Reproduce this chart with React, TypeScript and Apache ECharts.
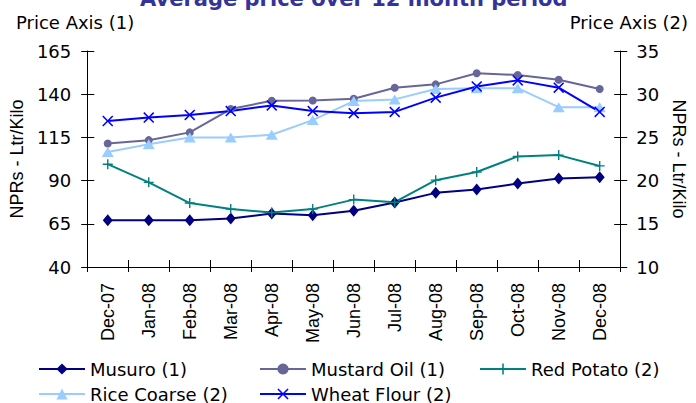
import React, { useEffect, useRef } from 'react';
import * as echarts from 'echarts';

const categories = ['Dec-07', 'Jan-08', 'Feb-08', 'Mar-08', 'Apr-08', 'May-08', 'Jun-08', 'Jul-08', 'Aug-08', 'Sep-08', 'Oct-08', 'Nov-08', 'Dec-08'];
const leftTicks = { min: 40, max: 165, interval: 25 };
const rightTicks = { min: 10, max: 35, interval: 5 };

const musuro = [67, 67, 67, 68, 70.9, 70, 72.5, 77.3, 82.9, 84.8, 88.3, 91.2, 92];
const mustardOil = [111.5, 113.4, 117.9, 131.4, 136.2, 136.4, 137.4, 143.7, 145.7, 152.1, 151.1, 148.4, 143];
const redPotato = [21.9, 19.8, 17.4, 16.7, 16.3, 16.7, 17.8, 17.5, 20.05, 21.0, 22.8, 22.95, 21.7];
const riceCoarse = [23.3, 24.2, 25.0, 25.0, 25.3, 27.0, 29.2, 29.4, 30.6, 30.7, 30.7, 28.5, 28.5];
const wheatFlour = [26.9, 27.3, 27.6, 28.05, 28.7, 28.05, 27.8, 27.95, 29.6, 30.9, 31.6, 30.75, 27.95];

const PLUS = 'path://M43,0H57V43H100V57H57V100H43V57H0V43H43Z';
const CROSS = 'path://M0,10L10,0L50,40L90,0L100,10L60,50L100,90L90,100L50,60L10,100L0,90L40,50Z';

const H_FONT = 'DejaVu Sans';
const V_FONT = 'Liberation Sans';

export default function App() {
  const ref = useRef<HTMLDivElement>(null);
  useEffect(() => {
    const chart = echarts.init(ref.current!, null, { renderer: 'svg' });
    const axisLine = { show: true, lineStyle: { color: '#000', width: 1 } };
    const tickStyle = { color: '#000', width: 1 };
    const legendBase = {
      orient: 'horizontal',
      itemWidth: 46,
      itemHeight: 14,
      padding: 0,
      textStyle: { fontFamily: H_FONT, fontSize: 18, color: '#000' },
    };
    const mkSeries = (name: string, data: number[], yAxisIndex: number, color: string, symbol: string, symbolSize: any) => ({
      name,
      type: 'line',
      data,
      yAxisIndex,
      xAxisIndex: 0,
      symbol,
      symbolSize,
      showAllSymbol: true,
      lineStyle: { color, width: 2 },
      itemStyle: { color, borderWidth: 0 },
      emphasis: { disabled: true },
    });
    chart.setOption({
      animation: false,
      backgroundColor: '#fff',
      title: [
        {
          text: 'Average price over 12 month period',
          left: 140,
          top: -12,
          padding: 0,
          textStyle: { fontFamily: H_FONT, fontWeight: 'bold', fontSize: 21, color: '#333399' },
        },
        {
          text: 'Price Axis (1)',
          left: 16,
          top: 13,
          padding: 0,
          textStyle: { fontFamily: H_FONT, fontWeight: 'normal', fontSize: 18, color: '#000' },
        },
        {
          text: 'Price Axis (2)',
          right: 8,
          top: 13,
          padding: 0,
          textStyle: { fontFamily: H_FONT, fontWeight: 'normal', fontSize: 18, color: '#000' },
        },
      ],
      legend: [
        { ...legendBase, data: ['Musuro (1)'], left: 38, top: 360 },
        { ...legendBase, data: ['Mustard Oil (1)'], left: 259, top: 360 },
        { ...legendBase, data: ['Red Potato (2)'], left: 479, top: 360 },
        { ...legendBase, data: ['Rice Coarse (2)'], left: 38, top: 385 },
        { ...legendBase, data: ['Wheat Flour (2)'], left: 259, top: 385 },
      ],
      grid: { left: 83, right: 67, top: 51, bottom: 136, containLabel: false },
      xAxis: [
        {
          type: 'category',
          data: categories,
          boundaryGap: true,
          axisLine,
          axisTick: { show: true, interval: 0, length: 5, lineStyle: tickStyle },
          axisLabel: { interval: 0, rotate: 90, margin: 16, fontFamily: V_FONT, fontSize: 18, color: '#000' },
          splitLine: { show: false },
        },
        {
          type: 'category',
          data: categories,
          boundaryGap: true,
          position: 'bottom',
          axisLine: { show: false },
          axisTick: { show: true, inside: true, interval: 0, length: 7, lineStyle: tickStyle },
          axisLabel: { show: false },
          splitLine: { show: false },
        },
      ],
      yAxis: [
        {
          type: 'value',
          position: 'left',
          ...leftTicks,
          name: 'NPRs - Ltr/Kilo',
          nameLocation: 'middle',
          nameRotate: 90,
          nameGap: 55,
          nameTextStyle: { fontFamily: V_FONT, fontSize: 18, color: '#000' },
          axisLine,
          axisTick: { show: true, length: 6, lineStyle: tickStyle },
          axisLabel: { margin: 16, fontFamily: H_FONT, fontSize: 18, color: '#000' },
          splitLine: { show: false },
        },
        {
          type: 'value',
          position: 'right',
          ...rightTicks,
          name: 'NPRs - Ltr/Kilo',
          nameLocation: 'middle',
          nameRotate: -90,
          nameGap: 49,
          nameTextStyle: { fontFamily: V_FONT, fontSize: 18, color: '#000' },
          axisLine,
          axisTick: { show: true, length: 7, lineStyle: tickStyle },
          axisLabel: { margin: 16, fontFamily: H_FONT, fontSize: 18, color: '#000' },
          splitLine: { show: false },
        },
        {
          type: 'value',
          position: 'left',
          ...leftTicks,
          axisLine: { show: false },
          axisTick: { show: true, inside: true, length: 7, lineStyle: tickStyle },
          axisLabel: { show: false },
          splitLine: { show: false },
        },
        {
          type: 'value',
          position: 'right',
          ...rightTicks,
          axisLine: { show: false },
          axisTick: { show: true, inside: true, length: 6, lineStyle: tickStyle },
          axisLabel: { show: false },
          splitLine: { show: false },
        },
      ],
      series: [
        mkSeries('Musuro (1)', musuro, 0, '#000080', 'diamond', [10, 12]),
        mkSeries('Mustard Oil (1)', mustardOil, 0, '#666699', 'circle', 8),
        mkSeries('Red Potato (2)', redPotato, 1, '#008080', PLUS, 10),
        mkSeries('Rice Coarse (2)', riceCoarse, 1, '#99CCFF', 'triangle', [12, 10]),
        mkSeries('Wheat Flour (2)', wheatFlour, 1, '#0000FF', CROSS, 11),
      ],
    });
    return () => chart.dispose();
  }, []);
  return <div ref={ref} style={{ position: 'absolute', left: 0, top: 0, width: 696, height: 403 }} />;
}
